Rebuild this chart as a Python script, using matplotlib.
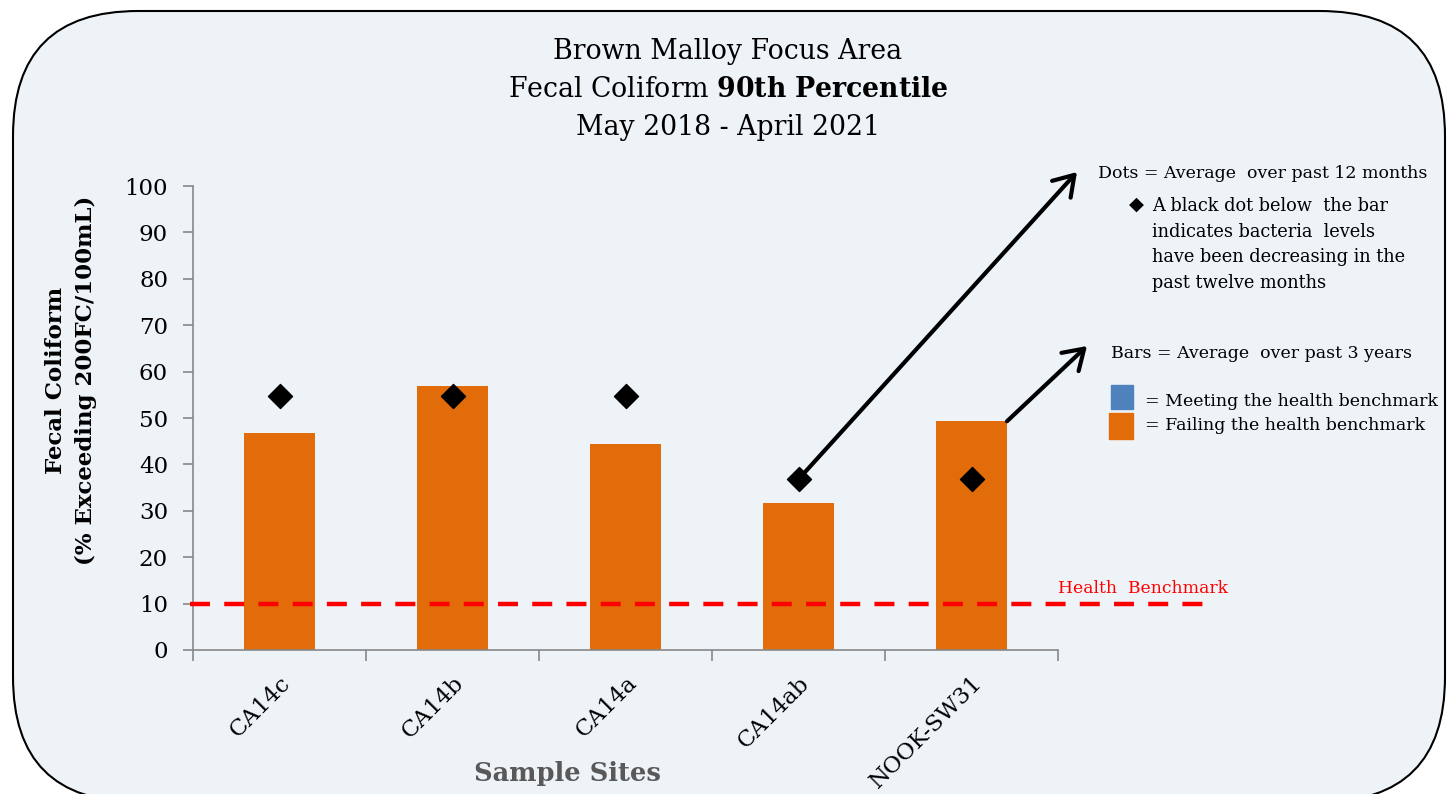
import matplotlib.pyplot as plt
from matplotlib.patches import FancyBboxPatch, Rectangle
from matplotlib.lines import Line2D

sites = ['CA14c', 'CA14b', 'CA14a', 'CA14ab', 'NOOK-SW31']
bar_vals = [46.8, 57.0, 44.3, 31.7, 49.3]
dot_vals = [54.8, 54.8, 54.8, 36.8, 36.8]
benchmark = 10
yticks = list(range(0, 101, 10))

plt.rcParams['font.family'] = ['DejaVu Serif']
plt.rcParams['mathtext.fontset'] = 'dejavuserif'
bg = '#eef3f8'
orange = '#e36c0a'
blue = '#4f81bd'

fig = plt.figure(figsize=(14.47, 7.94), dpi=100)
fig.patch.set_facecolor('white')

# rounded frame behind everything
frame = FancyBboxPatch((0.13, -0.08), 14.32, 7.91,
                       boxstyle='round,pad=0,rounding_size=1.25',
                       transform=fig.dpi_scale_trans, facecolor=bg,
                       edgecolor='black', linewidth=1.5, zorder=-5)
fig.patches.append(frame)

ax = fig.add_axes([0.1334, 0.1814, 0.5978, 0.5843])
ax.set_zorder(2)
ax.set_facecolor('none')
x = list(range(len(sites)))
ax.bar(x, bar_vals, width=0.41, color=orange, zorder=2)
ax.scatter(x, dot_vals, marker='D', s=150, color='black', zorder=4)

ax.set_xlim(-0.5, len(sites) - 0.5)
ax.set_ylim(0, 100)
ax.set_yticks(yticks)
ax.tick_params(axis='y', labelsize=16.5, length=7, color='#888888', width=1.2, pad=11)
ax.set_xticks([i - 0.5 for i in range(len(sites) + 1)], minor=False)
ax.set_xticklabels([])
ax.tick_params(axis='x', length=8, color='#888888', width=1.2)
ax.set_xticks(x, minor=True)
ax.set_xticklabels(sites, minor=True, rotation=45, ha='right', rotation_mode='anchor', fontsize=16.5)
ax.tick_params(axis='x', which='minor', length=0, pad=16)
for s in ['top', 'right']:
    ax.spines[s].set_visible(False)
for s in ['left', 'bottom']:
    ax.spines[s].set_color('#888888')
    ax.spines[s].set_linewidth(1.2)

# benchmark line runs past the axis
ax.add_line(Line2D([-0.52, 5.36], [benchmark, benchmark], color='red', lw=3.2,
                   ls=(0, (4.5, 3.2)), clip_on=False, zorder=3))
ax.text(4.5, benchmark + 1.5, 'Health  Benchmark', color='red', fontsize=12.4,
        ha='left', va='bottom')

ax.set_ylabel('Fecal Coliform\n(% Exceeding 200FC/100mL)', fontsize=16.5, fontweight='bold',
              linespacing=1.45)
ax.yaxis.set_label_coords(-0.111, 0.582)
ax.set_xlabel('Sample Sites', fontsize=18.5, fontweight='bold', color='#595959')
ax.xaxis.set_label_coords(0.433, -0.24)

# title
fig.text(0.503, 0.935, 'Brown Malloy Focus Area', ha='center', va='center', fontsize=19.3)
fig.text(0.503, 0.887, 'Fecal Coliform $\\bf{90th\\ Percentile}$', ha='center', va='center', fontsize=19.3)
fig.text(0.503, 0.839, 'May 2018 - April 2021', ha='center', va='center', fontsize=19.3)

# arrows
arrow = dict(arrowstyle='->,head_length=0.7,head_width=0.45', lw=3, color='black',
             mutation_scale=20, shrinkA=0, shrinkB=0)
ax.annotate('', xy=(1077 / 1447, 1 - 172 / 794), xycoords='figure fraction',
            xytext=(3, dot_vals[3]), textcoords='data', arrowprops=arrow)
ax.annotate('', xy=(1087 / 1447, 1 - 346 / 794), xycoords='figure fraction',
            xytext=(4.205, bar_vals[4]), textcoords='data', arrowprops=arrow)

# legend notes
fig.text(1098 / 1447, 1 - 174 / 794, 'Dots = Average  over past 12 months', fontsize=12.5, va='center')
fig.text(1136 / 1447, 1 - 205 / 794, '\u25c6', fontsize=14, va='center', ha='center')
fig.text(1152 / 1447, 1 - 197 / 794,
         'A black dot below  the bar\nindicates bacteria  levels\nhave been decreasing in the\npast twelve months',
         fontsize=12.8, va='top', linespacing=1.55)
fig.text(1111 / 1447, 1 - 353 / 794, 'Bars = Average  over past 3 years', fontsize=12.5, va='center')
fig.patches.append(Rectangle((1111 / 1447, 1 - 409 / 794), 22 / 1447, 24 / 794,
                             transform=fig.transFigure, color=blue))
fig.patches.append(Rectangle((1109 / 1447, 1 - 439 / 794), 24 / 1447, 26 / 794,
                             transform=fig.transFigure, color=orange))
fig.text(1145 / 1447, 1 - 401 / 794, '= Meeting the health benchmark', fontsize=12.5, va='center')
fig.text(1145 / 1447, 1 - 426 / 794, '= Failing the health benchmark', fontsize=12.5, va='center')

fig.savefig('out.png', dpi=100, facecolor='white')
